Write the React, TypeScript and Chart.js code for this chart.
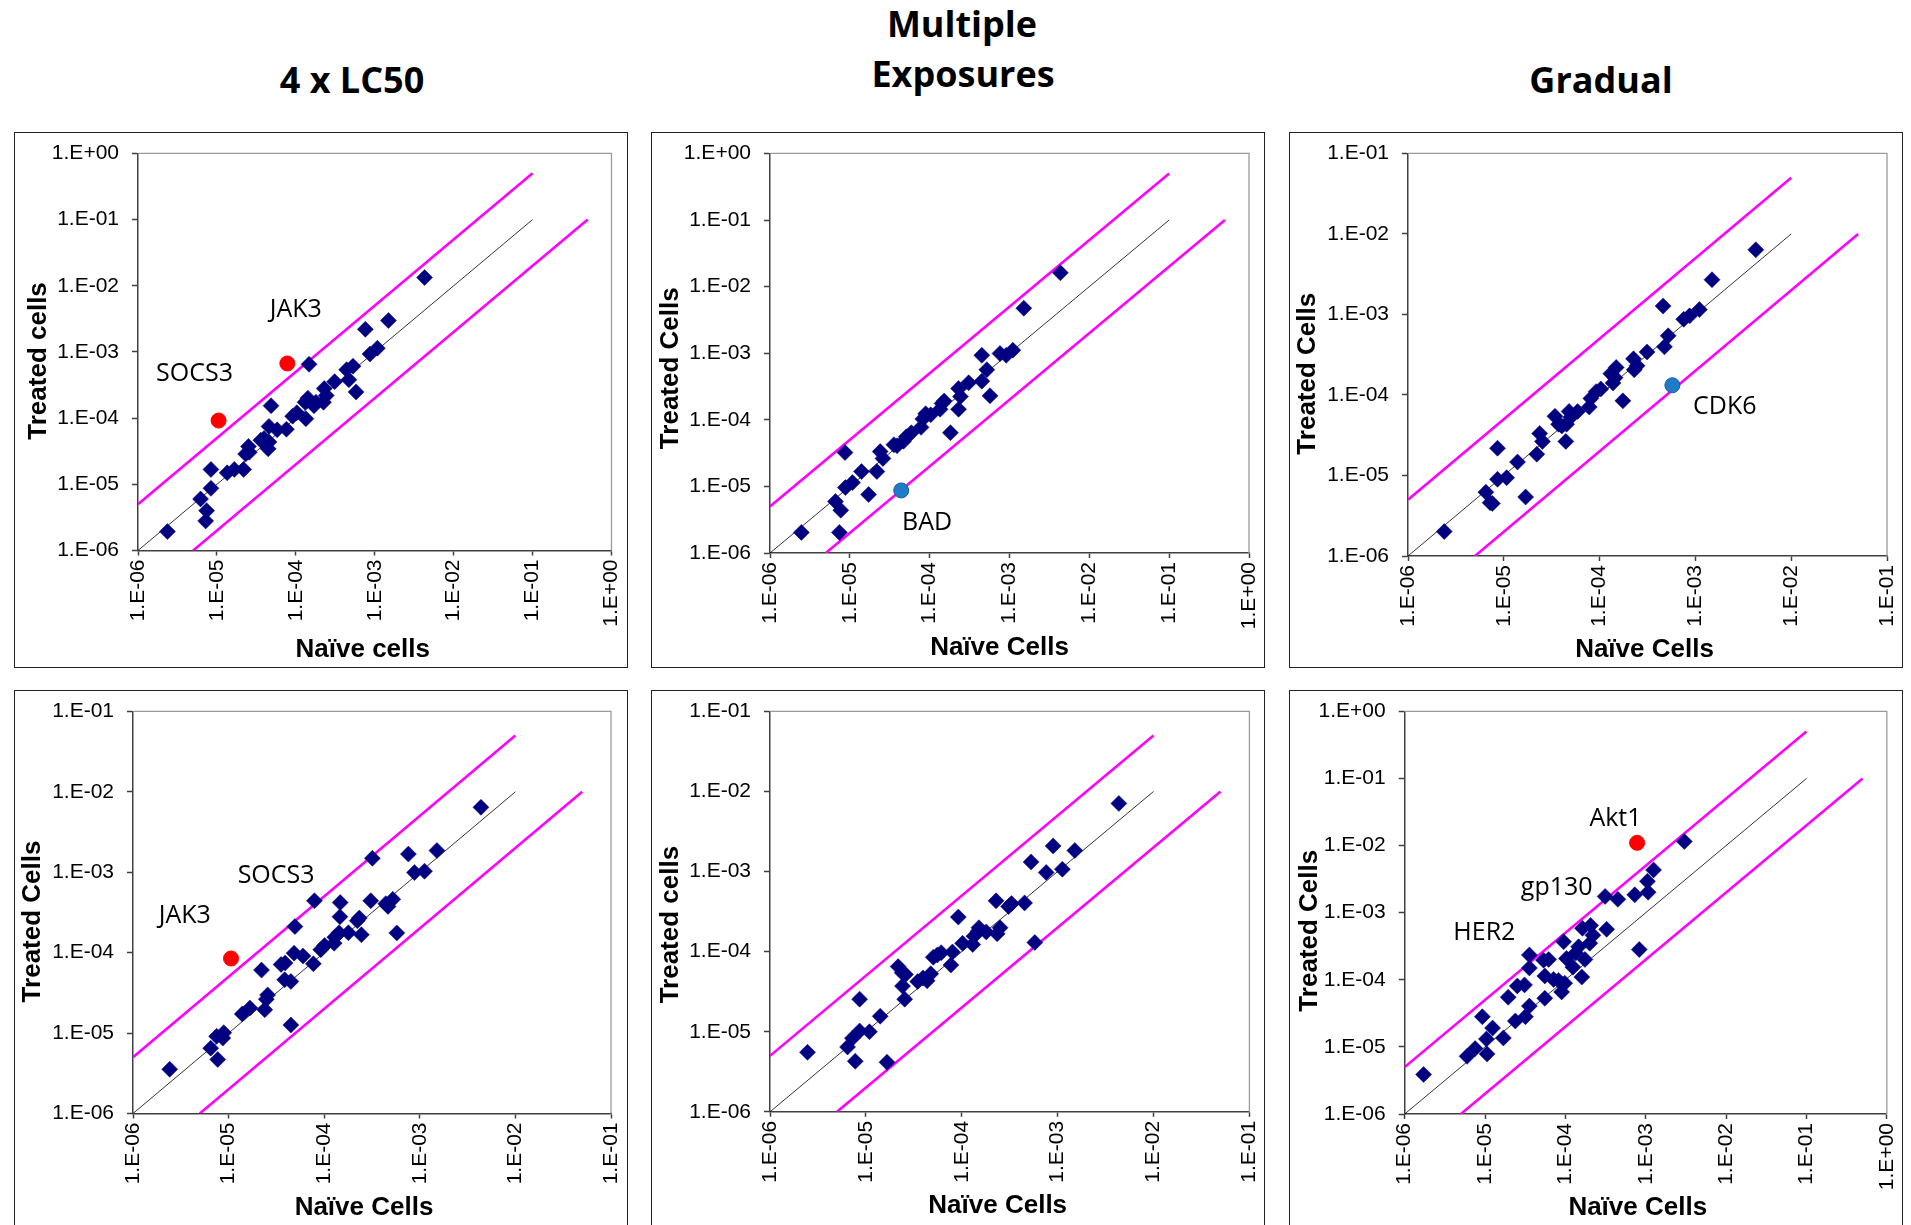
import React, { useEffect, useRef } from "react";
import { Chart, registerables } from "chart.js";

Chart.register(...registerables);

// ---------- axis ticks ----------
const DECADES_6 = [1e-6, 1e-5, 1e-4, 1e-3, 1e-2, 1e-1, 1];
const DECADE_LABELS_6 = ["1.E-06", "1.E-05", "1.E-04", "1.E-03", "1.E-02", "1.E-01", "1.E+00"];
const DECADES_5 = [1e-6, 1e-5, 1e-4, 1e-3, 1e-2, 1e-1];
const DECADE_LABELS_5 = ["1.E-06", "1.E-05", "1.E-04", "1.E-03", "1.E-02", "1.E-01"];

// ---------- guide lines (start, end) ----------
const IDENTITY_LONG_X = [1e-6, 1e-1];
const IDENTITY_LONG_Y = [1e-6, 1e-1];
const UPPER_LONG_X = [1e-6, 1e-1];
const UPPER_LONG_Y = [5e-6, 5e-1];
const LOWER_LONG_X = [5e-6, 5e-1];
const LOWER_LONG_Y = [1e-6, 1e-1];

const IDENTITY_SHORT_X = [1e-6, 1e-2];
const IDENTITY_SHORT_Y = [1e-6, 1e-2];
const UPPER_SHORT_X = [1e-6, 1e-2];
const UPPER_SHORT_Y = [5e-6, 5e-2];
const LOWER_SHORT_X = [5e-6, 5e-2];
const LOWER_SHORT_Y = [1e-6, 1e-2];

// ---------- Panel 1: 4 x LC50 (top) ----------
const lc50TopNaive = [2.36e-6, 6.2e-6, 7.4e-6, 7.2e-6, 8.4e-6, 8.4e-6, 1.35e-5, 1.66e-5, 2.18e-5, 2.31e-5, 2.51e-5, 2.57e-5, 3.6e-5, 3.96e-5, 4.46e-5, 4.57e-5, 4.57e-5, 4.85e-5, 5.8e-5, 7.6e-5, 9.1e-5, 1.03e-4, 1.34e-4, 1.31e-4, 1.42e-4, 1.47e-4, 1.7e-4, 1.8e-4, 2.24e-4, 2.29e-4, 2.43e-4, 3.1e-4, 4.4e-4, 4.7e-4, 5.3e-4, 5.8e-4, 7.6e-4, 8.7e-4, 1.08e-3, 1.49e-3, 4.28e-3];
const lc50TopTreated = [1.93e-6, 6.0e-6, 4.0e-6, 2.8e-6, 8.7e-6, 1.68e-5, 1.49e-5, 1.68e-5, 1.68e-5, 2.87e-5, 3.74e-5, 3.05e-5, 4.64e-5, 4.93e-5, 3.44e-5, 4.37e-5, 7.5e-5, 1.54e-4, 6.65e-5, 6.8e-5, 1.07e-4, 1.21e-4, 9.8e-5, 1.74e-4, 2.0e-4, 6.5e-4, 1.54e-4, 1.74e-4, 1.74e-4, 2.8e-4, 2.2e-4, 3.56e-4, 5.4e-4, 3.8e-4, 6.1e-4, 2.49e-4, 2.2e-3, 9.3e-4, 1.14e-3, 2.98e-3, 1.33e-2];
const lc50TopHitNaive = [1.05e-5, 7.8e-5];
const lc50TopHitTreated = [9.2e-5, 6.7e-4];
const lc50TopLabelText = ["SOCS3", "JAK3"];
const lc50TopLabelX = [5.2e-6, 1.0e-4];
const lc50TopLabelY = [4.7e-4, 4.3e-3];

// ---------- Panel 2: Multiple Exposures (top) ----------
const multiTopNaive = [2.47e-6, 7.4e-6, 6.6e-6, 7.7e-6, 8.7e-6, 8.8e-6, 1.08e-5, 1.4e-5, 1.72e-5, 2.18e-5, 2.4e-5, 2.6e-5, 3.57e-5, 3.9e-5, 4.7e-5, 5.1e-5, 5.9e-5, 7.8e-5, 8.2e-5, 8.9e-5, 1.03e-4, 1.35e-4, 1.43e-4, 1.52e-4, 1.82e-4, 2.3e-4, 2.43e-4, 2.3e-4, 3.08e-4, 4.5e-4, 4.5e-4, 5.2e-4, 5.7e-4, 7.6e-4, 9.1e-4, 1.1e-3, 1.51e-3, 4.34e-3];
const multiTopTreated = [2.04e-6, 2.04e-6, 5.94e-6, 4.4e-6, 3.22e-5, 9.6e-6, 1.14e-5, 1.67e-5, 7.55e-6, 1.67e-5, 3.33e-5, 2.63e-5, 4.23e-5, 4.08e-5, 4.76e-5, 5.56e-5, 6.4e-5, 7.7e-5, 1.03e-4, 1.23e-4, 1.19e-4, 1.44e-4, 1.76e-4, 1.91e-4, 6.4e-5, 1.44e-4, 2.23e-4, 2.94e-4, 3.6e-4, 3.8e-4, 9.3e-4, 5.65e-4, 2.29e-4, 9.9e-4, 9.3e-4, 1.11e-3, 4.74e-3, 1.61e-2];
const multiTopHitNaive = [4.4e-5];
const multiTopHitTreated = [8.7e-6];
const multiTopLabelText = ["BAD"];
const multiTopLabelX = [9.3e-5];
const multiTopLabelY = [2.85e-6];

// ---------- Panel 3: Gradual (top) ----------
const gradTopNaive = [2.39e-6, 6.5e-6, 7.2e-6, 7.6e-6, 8.6e-6, 8.6e-6, 1.07e-5, 1.39e-5, 1.69e-5, 2.21e-5, 2.37e-5, 2.53e-5, 3.42e-5, 3.73e-5, 4.03e-5, 4.44e-5, 4.52e-5, 4.8e-5, 4.98e-5, 5.9e-5, 7.8e-5, 8.1e-5, 9.2e-5, 1.03e-4, 1.31e-4, 1.38e-4, 1.45e-4, 1.49e-4, 1.75e-4, 2.26e-4, 2.3e-4, 2.46e-4, 3.13e-4, 4.6e-4, 4.75e-4, 5.2e-4, 7.55e-4, 8.7e-4, 1.1e-3, 1.49e-3, 4.27e-3];
const gradTopTreated = [2.01e-6, 6.2e-6, 4.6e-6, 4.5e-6, 2.18e-5, 8.97e-6, 9.4e-6, 1.47e-5, 5.4e-6, 1.84e-5, 3.32e-5, 2.65e-5, 5.43e-5, 4.33e-5, 4.12e-5, 2.65e-5, 4.33e-5, 6.24e-5, 5.27e-5, 6.24e-5, 7.08e-5, 9.05e-5, 1.1e-4, 1.19e-4, 1.84e-4, 1.41e-4, 1.64e-4, 2.2e-4, 8.45e-5, 2.81e-4, 2.05e-4, 2.31e-4, 3.42e-4, 1.27e-3, 3.96e-4, 5.43e-4, 8.7e-4, 9.6e-4, 1.15e-3, 2.7e-3, 6.35e-3];
const gradTopHitNaive = [5.75e-4];
const gradTopHitTreated = [1.32e-4];
const gradTopLabelText = ["CDK6"];
const gradTopLabelX = [2.03e-3];
const gradTopLabelY = [7.2e-5];

// ---------- Panel 4: 4 x LC50 (bottom) ----------
const lc50BotNaive = [2.42e-6, 6.5e-6, 7.7e-6, 7.5e-6, 8.7e-6, 8.9e-6, 1.39e-5, 1.67e-5, 2.21e-5, 2.39e-5, 2.48e-5, 2.56e-5, 3.54e-5, 3.9e-5, 3.86e-5, 4.48e-5, 4.48e-5, 4.84e-5, 4.94e-5, 6.0e-5, 7.7e-5, 7.9e-5, 9.2e-5, 1.01e-4, 1.27e-4, 1.29e-4, 1.43e-4, 1.46e-4, 1.47e-4, 1.79e-4, 2.22e-4, 2.33e-4, 2.45e-4, 3.07e-4, 3.19e-4, 4.41e-4, 4.65e-4, 5.22e-4, 5.75e-4, 7.6e-4, 8.8e-4, 1.12e-3, 1.51e-3, 4.36e-3];
const lc50BotTreated = [3.55e-6, 6.5e-6, 4.7e-6, 9.1e-6, 8.66e-6, 1.01e-5, 1.73e-5, 2.05e-5, 6.07e-5, 1.95e-5, 2.64e-5, 2.98e-5, 7.13e-5, 7.43e-5, 4.6e-5, 4.39e-5, 1.26e-5, 9.86e-5, 2.11e-4, 9.1e-5, 7.27e-5, 4.42e-4, 1.09e-4, 1.23e-4, 1.31e-4, 1.56e-4, 1.77e-4, 2.8e-4, 4.2e-4, 1.77e-4, 2.5e-4, 2.7e-4, 1.67e-4, 4.42e-4, 1.49e-3, 4.07e-4, 3.76e-4, 4.6e-4, 1.76e-4, 1.68e-3, 9.9e-4, 1.03e-3, 1.86e-3, 6.41e-3];
const lc50BotHitNaive = [1.06e-5];
const lc50BotHitTreated = [8.47e-5];
const lc50BotLabelText = ["SOCS3", "JAK3"];
const lc50BotLabelX = [3.14e-5, 3.48e-6];
const lc50BotLabelY = [8.97e-4, 2.88e-4];

// ---------- Panel 5: Multiple Exposures (bottom) ----------
const multiBotNaive = [2.46e-6, 6.44e-6, 7.24e-6, 7.75e-6, 8.6e-6, 8.6e-6, 1.09e-5, 1.41e-5, 1.66e-5, 2.17e-5, 2.39e-5, 2.59e-5, 2.41e-5, 2.54e-5, 3.47e-5, 3.94e-5, 4.35e-5, 4.75e-5, 5.04e-5, 5.56e-5, 6.1e-5, 7.7e-5, 8.0e-5, 9.2e-5, 1.02e-4, 1.3e-4, 1.34e-4, 1.48e-4, 1.51e-4, 1.8e-4, 2.28e-4, 2.34e-4, 2.51e-4, 3.08e-4, 3.3e-4, 4.52e-4, 5.28e-4, 5.78e-4, 7.6e-4, 8.97e-4, 1.12e-3, 1.51e-3, 4.35e-3];
const multiBotTreated = [5.53e-6, 6.44e-6, 8.3e-6, 4.28e-6, 2.55e-5, 1.02e-5, 1.0e-5, 1.56e-5, 4.16e-6, 6.5e-5, 5.46e-5, 5.19e-5, 3.71e-5, 2.55e-5, 4.23e-5, 4.69e-5, 4.33e-5, 5.3e-5, 8.5e-5, 9.1e-5, 9.7e-5, 6.8e-5, 9.9e-5, 2.7e-4, 1.27e-4, 1.23e-4, 1.56e-4, 1.8e-4, 1.99e-4, 1.76e-4, 4.31e-4, 1.67e-4, 1.99e-4, 3.66e-4, 3.98e-4, 4.06e-4, 1.32e-3, 1.3e-4, 9.75e-4, 2.09e-3, 1.07e-3, 1.83e-3, 7.1e-3];

// ---------- Panel 6: Gradual (bottom) ----------
const gradBotNaive = [1.72e-6, 5.97e-6, 7.52e-6, 1.06e-5, 1.04e-5, 9.25e-6, 1.24e-5, 1.69e-5, 1.94e-5, 2.38e-5, 2.52e-5, 3.1e-5, 3.18e-5, 3.56e-5, 3.56e-5, 3.56e-5, 5.35e-5, 5.54e-5, 5.54e-5, 6.2e-5, 7.13e-5, 8.2e-5, 8.97e-5, 9.5e-5, 9.8e-5, 1.03e-4, 1.24e-4, 1.34e-4, 1.46e-4, 1.6e-4, 1.63e-4, 1.75e-4, 2.01e-4, 2.06e-4, 2.2e-4, 3.12e-4, 3.26e-4, 4.5e-4, 7.3e-4, 8.3e-4, 1.05e-3, 1.07e-3, 1.25e-3, 3.02e-3];
const gradBotTreated = [3.89e-6, 7.23e-6, 9.44e-6, 7.87e-6, 1.31e-5, 2.82e-5, 1.91e-5, 1.36e-5, 5.5e-5, 2.43e-5, 8.1e-5, 8.4e-5, 2.82e-5, 4.06e-5, 2.35e-4, 1.5e-4, 1.96e-4, 5.3e-5, 1.14e-4, 2.01e-4, 1.01e-4, 9.8e-5, 6.6e-5, 3.69e-4, 8.9e-5, 2.08e-4, 1.54e-4, 2.5e-4, 3.11e-4, 1.1e-4, 5.86e-4, 2.01e-4, 3.51e-4, 6.46e-4, 4.6e-4, 1.75e-3, 5.65e-4, 1.58e-3, 1.85e-3, 2.82e-4, 2.94e-3, 2.02e-3, 4.34e-3, 1.15e-2];
const gradBotHitNaive = [7.8e-4];
const gradBotHitTreated = [1.1e-2];
const gradBotLabelText = ["Akt1", "gp130", "HER2"];
const gradBotLabelX = [4.2e-4, 7.8e-5, 9.8e-6];
const gradBotLabelY = [2.46e-2, 2.37e-3, 5.06e-4];

// ---------- styling ----------
const NAVY = "#000080";
const MAGENTA = "#FF00FF";
const RED = "#FF0000";
const BLUE = "#1F7BC8";
const AXIS_FONT = '"Liberation Sans", Arial, sans-serif';
const NOTE_FONT = '"Open Sans", sans-serif';

type PanelSpec = {
  left: number; top: number; width: number; height: number;
  yWidth: number; xHeight: number; padTop: number; padRight: number;
  yTitleX: number; yTitleDy: number; xTitleY: number; xTitleDx: number;
  yTitle: string; xTitle: string;
  ticks: number[]; tickLabels: string[];
  long: boolean;
  naive: number[]; treated: number[];
  hitNaive: number[]; hitTreated: number[]; hitColor: string; hitBorder: string;
  labelText: string[]; labelX: number[]; labelY: number[];
};

const pts = (xs: number[], ys: number[]) => xs.map((x, i) => ({ x, y: ys[i] }));

const plotFramePlugin = {
  id: "plotFrame",
  beforeDatasetsDraw(chart: any) {
    const { ctx, chartArea } = chart;
    const { left, top, right, bottom } = chartArea;
    ctx.save();
    ctx.strokeStyle = "#9a9a9a";
    ctx.lineWidth = 1.3;
    ctx.beginPath();
    ctx.moveTo(left, top);
    ctx.lineTo(right, top);
    ctx.lineTo(right, bottom);
    ctx.stroke();
    ctx.restore();
  },
};

const geneLabelPlugin = {
  id: "geneLabels",
  afterDatasetsDraw(chart: any, _args: any, opts: any) {
    const { ctx, scales } = chart;
    const items = (opts && opts.items) || [];
    ctx.save();
    ctx.font = `25px ${NOTE_FONT}`;
    ctx.fillStyle = "#000";
    ctx.textAlign = "center";
    ctx.textBaseline = "middle";
    items.forEach((it: any) => {
      ctx.fillText(it.text, scales.x.getPixelForValue(it.x), scales.y.getPixelForValue(it.y));
    });
    ctx.restore();
  },
};

const axisTitlePlugin = {
  id: "axisTitles",
  afterDraw(chart: any, _args: any, opts: any) {
    const { ctx, chartArea } = chart;
    const { left, right, top, bottom } = chartArea;
    ctx.save();
    ctx.font = `bold 26px ${AXIS_FONT}`;
    ctx.fillStyle = "#000";
    ctx.textAlign = "center";
    ctx.textBaseline = "middle";
    ctx.fillText(opts.xText, (left + right) / 2 + opts.xDx, opts.xY);
    ctx.translate(opts.yX, (top + bottom) / 2 + opts.yDy);
    ctx.rotate(-Math.PI / 2);
    ctx.fillText(opts.yText, 0, 0);
    ctx.restore();
  },
};

function Panel({ spec }: { spec: PanelSpec }) {
  const ref = useRef<HTMLCanvasElement | null>(null);
  const cw = spec.width - 2;
  const ch = spec.height - 2;

  useEffect(() => {
    if (!ref.current) return;
    const s = spec;
    const labelFor = (v: number) => {
      const idx = s.ticks.findIndex((t) => Math.abs(Math.log10(t) - Math.log10(v)) < 1e-6);
      return idx >= 0 ? s.tickLabels[idx] : "";
    };
    const idX = s.long ? IDENTITY_LONG_X : IDENTITY_SHORT_X;
    const idY = s.long ? IDENTITY_LONG_Y : IDENTITY_SHORT_Y;
    const upX = s.long ? UPPER_LONG_X : UPPER_SHORT_X;
    const upY = s.long ? UPPER_LONG_Y : UPPER_SHORT_Y;
    const loX = s.long ? LOWER_LONG_X : LOWER_SHORT_X;
    const loY = s.long ? LOWER_LONG_Y : LOWER_SHORT_Y;

    const datasets: any[] = [];
    if (s.hitNaive.length) {
      datasets.push({
        label: "highlight",
        data: pts(s.hitNaive, s.hitTreated),
        pointStyle: "circle",
        pointRadius: 7.5,
        backgroundColor: s.hitColor,
        borderColor: s.hitBorder,
        borderWidth: 1,
        order: 0,
      });
    }
    datasets.push({
      label: "genes",
      data: pts(s.naive, s.treated),
      pointStyle: "rectRot",
      pointRadius: 8,
      backgroundColor: NAVY,
      borderColor: NAVY,
      borderWidth: 0.5,
      order: 1,
    });
    datasets.push({
      label: "identity",
      data: pts(idX, idY),
      showLine: true,
      pointRadius: 0,
      borderColor: "#000",
      borderWidth: 0.8,
      order: 2,
    });
    datasets.push({
      label: "upper",
      data: pts(upX, upY),
      showLine: true,
      pointRadius: 0,
      borderColor: MAGENTA,
      borderWidth: 2.6,
      order: 3,
    });
    datasets.push({
      label: "lower",
      data: pts(loX, loY),
      showLine: true,
      pointRadius: 0,
      borderColor: MAGENTA,
      borderWidth: 2.6,
      order: 4,
    });

    const tickFont = { family: AXIS_FONT, size: 21 };
    const lo = s.ticks[0];
    const hi = s.ticks[s.ticks.length - 1];

    const chart = new Chart(ref.current, {
      type: "scatter",
      data: { datasets },
      options: {
        animation: false,
        responsive: false,
        events: [],
        layout: { padding: { left: 0, top: s.padTop, right: s.padRight, bottom: 0 } },
        plugins: {
          legend: { display: false },
          tooltip: { enabled: false },
          geneLabels: {
            items: s.labelText.map((t, i) => ({ text: t, x: s.labelX[i], y: s.labelY[i] })),
          },
          axisTitles: {
            xText: s.xTitle,
            xY: s.xTitleY,
            xDx: s.xTitleDx,
            yText: s.yTitle,
            yX: s.yTitleX,
            yDy: s.yTitleDy,
          },
        } as any,
        scales: {
          x: {
            type: "logarithmic",
            min: lo,
            max: hi,
            afterBuildTicks: (sc: any) => {
              sc.ticks = s.ticks.map((v) => ({ value: v }));
            },
            afterFit: (sc: any) => {
              sc.height = s.xHeight;
              sc.paddingLeft = 0;
              sc.paddingRight = 0;
            },
            ticks: {
              autoSkip: false,
              minRotation: 90,
              maxRotation: 90,
              padding: 4,
              color: "#000",
              font: tickFont,
              callback: (v: any) => labelFor(Number(v)),
            },
            grid: {
              display: true,
              drawOnChartArea: false,
              drawTicks: true,
              tickLength: 5,
              tickColor: "#404040",
              tickWidth: 1.5,
            },
            border: { display: true, color: "#404040", width: 1.5 },
            title: { display: false },
          },
          y: {
            type: "logarithmic",
            min: lo,
            max: hi,
            afterBuildTicks: (sc: any) => {
              sc.ticks = s.ticks.map((v) => ({ value: v }));
            },
            afterFit: (sc: any) => {
              sc.width = s.yWidth;
              sc.paddingTop = 0;
              sc.paddingBottom = 0;
            },
            ticks: {
              autoSkip: false,
              padding: 13,
              color: "#000",
              font: tickFont,
              callback: (v: any) => labelFor(Number(v)),
            },
            grid: {
              display: true,
              drawOnChartArea: false,
              drawTicks: true,
              tickLength: 6,
              tickColor: "#404040",
              tickWidth: 1.5,
            },
            border: { display: true, color: "#404040", width: 1.5 },
            title: { display: false },
          },
        },
      } as any,
      plugins: [plotFramePlugin, geneLabelPlugin, axisTitlePlugin],
    });
    return () => chart.destroy();
  }, [spec]);

  return (
    <div
      style={{
        position: "absolute",
        left: spec.left,
        top: spec.top,
        width: spec.width,
        height: spec.height,
        border: "1px solid #222",
        boxSizing: "border-box",
        background: "#fff",
      }}
    >
      <canvas ref={ref} width={cw} height={ch} style={{ display: "block", width: cw, height: ch }} />
    </div>
  );
}

const PANELS: PanelSpec[] = [
  {
    left: 14, top: 132, width: 614, height: 536,
    yWidth: 123, xHeight: 116.5, padTop: 20.4, padRight: 15.5,
    yTitleX: 24, yTitleDy: 9, xTitleY: 517, xTitleDx: -12,
    yTitle: "Treated cells", xTitle: "Naïve cells",
    ticks: DECADES_6, tickLabels: DECADE_LABELS_6, long: true,
    naive: lc50TopNaive, treated: lc50TopTreated,
    hitNaive: lc50TopHitNaive, hitTreated: lc50TopHitTreated, hitColor: RED, hitBorder: RED,
    labelText: lc50TopLabelText, labelX: lc50TopLabelX, labelY: lc50TopLabelY,
  },
  {
    left: 651, top: 132, width: 614, height: 536,
    yWidth: 118, xHeight: 114, padTop: 20.4, padRight: 15,
    yTitleX: 19, yTitleDy: 15, xTitleY: 515, xTitleDx: -10,
    yTitle: "Treated Cells", xTitle: "Naïve Cells",
    ticks: DECADES_6, tickLabels: DECADE_LABELS_6, long: true,
    naive: multiTopNaive, treated: multiTopTreated,
    hitNaive: multiTopHitNaive, hitTreated: multiTopHitTreated, hitColor: BLUE, hitBorder: "#145E9E",
    labelText: multiTopLabelText, labelX: multiTopLabelX, labelY: multiTopLabelY,
  },
  {
    left: 1289, top: 132, width: 614, height: 536,
    yWidth: 118, xHeight: 111, padTop: 20.4, padRight: 15,
    yTitleX: 18, yTitleDy: 19, xTitleY: 517, xTitleDx: -3,
    yTitle: "Treated Cells", xTitle: "Naïve Cells",
    ticks: DECADES_5, tickLabels: DECADE_LABELS_5, long: false,
    naive: gradTopNaive, treated: gradTopTreated,
    hitNaive: gradTopHitNaive, hitTreated: gradTopHitTreated, hitColor: BLUE, hitBorder: "#145E9E",
    labelText: gradTopLabelText, labelX: gradTopLabelX, labelY: gradTopLabelY,
  },
  {
    left: 14, top: 690, width: 614, height: 536,
    yWidth: 118, xHeight: 111.5, padTop: 20.4, padRight: 16,
    yTitleX: 18, yTitleDy: 9, xTitleY: 517, xTitleDx: -8,
    yTitle: "Treated Cells", xTitle: "Naïve Cells",
    ticks: DECADES_5, tickLabels: DECADE_LABELS_5, long: false,
    naive: lc50BotNaive, treated: lc50BotTreated,
    hitNaive: lc50BotHitNaive, hitTreated: lc50BotHitTreated, hitColor: RED, hitBorder: RED,
    labelText: lc50BotLabelText, labelX: lc50BotLabelX, labelY: lc50BotLabelY,
  },
  {
    left: 651, top: 690, width: 614, height: 536,
    yWidth: 118, xHeight: 113.2, padTop: 20.4, padRight: 14.6,
    yTitleX: 19, yTitleDy: 13, xTitleY: 515, xTitleDx: -12,
    yTitle: "Treated cells", xTitle: "Naïve Cells",
    ticks: DECADES_5, tickLabels: DECADE_LABELS_5, long: false,
    naive: multiBotNaive, treated: multiBotTreated,
    hitNaive: [], hitTreated: [], hitColor: RED, hitBorder: RED,
    labelText: [], labelX: [], labelY: [],
  },
  {
    left: 1289, top: 690, width: 614, height: 536,
    yWidth: 114.7, xHeight: 111, padTop: 20.4, padRight: 15.2,
    yTitleX: 20, yTitleDy: 18, xTitleY: 517, xTitleDx: -8,
    yTitle: "Treated Cells", xTitle: "Naïve Cells",
    ticks: DECADES_6, tickLabels: DECADE_LABELS_6, long: true,
    naive: gradBotNaive, treated: gradBotTreated,
    hitNaive: gradBotHitNaive, hitTreated: gradBotHitTreated, hitColor: RED, hitBorder: RED,
    labelText: gradBotLabelText, labelX: gradBotLabelX, labelY: gradBotLabelY,
  },
];

const HEADINGS = [
  { text: "4 x LC50", cx: 352, baseline: 94 },
  { text: "Multiple", cx: 962, baseline: 38 },
  { text: "Exposures", cx: 963, baseline: 88 },
  { text: "Gradual", cx: 1601, baseline: 94 },
];

export default function App() {
  return (
    <div
      style={{
        position: "fixed",
        left: 0,
        top: 0,
        width: 1911,
        height: 1225,
        overflow: "hidden",
        background: "#fff",
      }}
    >
      {HEADINGS.map((h) => (
        <div
          key={h.text}
          style={{
            position: "absolute",
            left: h.cx - 200,
            width: 400,
            top: h.baseline - 32,
            textAlign: "center",
            fontFamily: NOTE_FONT,
            fontWeight: 700,
            fontSize: 36,
            lineHeight: "36px",
            color: "#000",
            whiteSpace: "nowrap",
          }}
        >
          {h.text}
        </div>
      ))}
      {PANELS.map((p, i) => (
        <Panel key={i} spec={p} />
      ))}
    </div>
  );
}
